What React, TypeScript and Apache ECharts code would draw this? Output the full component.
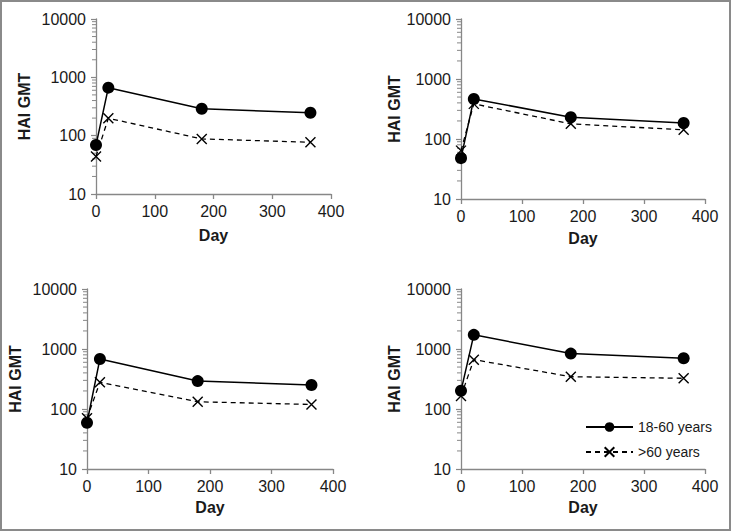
import React, { useEffect, useRef } from 'react';
import * as echarts from 'echarts';

const days = [0, 21, 180, 365];
const seriesNames = ['18-60 years', '>60 years'];

const panel1Young = [69, 665, 290, 247];
const panel1Old = [44, 199, 88, 77];
const panel2Young = [48, 465, 231, 185];
const panel2Old = [64, 385, 179, 142];
const panel3Young = [59, 683, 292, 251];
const panel3Old = [70, 279, 132, 119];
const panel4Young = [201, 1722, 838, 702];
const panel4Old = [164, 665, 345, 325];

const yMinorTickValues = [
  20, 30, 40, 50, 60, 70, 80, 90,
  200, 300, 400, 500, 600, 700, 800, 900,
  2000, 3000, 4000, 5000, 6000, 7000, 8000, 9000,
];

const FONT = '"Liberation Sans", Arial, sans-serif';
const AXIS_COLOR = '#878787';
const TEXT_COLOR = '#1a1a1a';

const grids = [
  { left: 96, top: 19, width: 235, height: 175, yGap: 64, xGap: 33 },
  { left: 461, top: 19, width: 244, height: 180, yGap: 56, xGap: 31 },
  { left: 87, top: 289, width: 246, height: 180, yGap: 64, xGap: 30 },
  { left: 461, top: 289, width: 244, height: 180, yGap: 56, xGap: 30 },
];

const panelData = [
  [panel1Young, panel1Old],
  [panel2Young, panel2Old],
  [panel3Young, panel3Old],
  [panel4Young, panel4Old],
];

export default function App() {
  const ref = useRef<HTMLDivElement>(null);

  useEffect(() => {
    if (!ref.current) return;
    const chart = echarts.init(ref.current, null, { renderer: 'svg' });

    const xAxes = grids.map((g, i) => ({
      type: 'value',
      gridIndex: i,
      min: 0,
      max: 400,
      interval: 100,
      name: 'Day',
      nameLocation: 'middle',
      nameGap: g.xGap,
      nameTextStyle: { fontFamily: FONT, fontSize: 16, fontWeight: 'bold', color: TEXT_COLOR },
      axisLine: { show: true, lineStyle: { color: AXIS_COLOR, width: 1.3 } },
      axisTick: { show: true, inside: false, length: 5, lineStyle: { color: AXIS_COLOR, width: 1.3 } },
      axisLabel: { fontFamily: FONT, fontSize: 16, color: TEXT_COLOR, margin: 9 },
      splitLine: { show: false },
    }));

    const yAxes = grids.map((g, i) => ({
      type: 'log',
      logBase: 10,
      gridIndex: i,
      min: 10,
      max: 10000,
      name: 'HAI GMT',
      nameLocation: 'middle',
      nameGap: g.yGap,
      nameRotate: 90,
      nameTextStyle: { fontFamily: FONT, fontSize: 16, fontWeight: 'bold', color: TEXT_COLOR },
      axisLine: { show: true, lineStyle: { color: AXIS_COLOR, width: 1.3 } },
      axisTick: { show: true, inside: false, length: 5, lineStyle: { color: AXIS_COLOR, width: 1.2 } },
      axisLabel: {
        fontFamily: FONT,
        fontSize: 16,
        color: TEXT_COLOR,
        margin: 10,
        formatter: (v: number) => String(Math.round(v)),
      },
      splitLine: { show: false },
    }));

    const series: any[] = [];
    panelData.forEach((pair, i) => {
      series.push({
        name: 'minorTicks' + i,
        type: 'custom',
        xAxisIndex: i,
        yAxisIndex: i,
        silent: true,
        clip: false,
        data: yMinorTickValues.map((v) => [0, v]),
        renderItem: (params: any, api: any) => {
          const p = api.coord([api.value(0), api.value(1)]);
          return {
            type: 'line',
            shape: { x1: p[0] - 4, y1: p[1], x2: p[0], y2: p[1] },
            style: { stroke: AXIS_COLOR, lineWidth: 1 },
          };
        },
        z: 1,
      });
      series.push({
        name: seriesNames[0],
        type: 'line',
        xAxisIndex: i,
        yAxisIndex: i,
        data: days.map((d, k) => [d, pair[0][k]]),
        symbol: 'circle',
        symbolSize: 12,
        lineStyle: { color: '#000', width: 1.5, type: 'solid' },
        itemStyle: { color: '#000' },
        z: 3,
      });
      series.push({
        name: seriesNames[1],
        type: 'line',
        xAxisIndex: i,
        yAxisIndex: i,
        data: days.map((d, k) => [d, pair[1][k]]),
        symbol: 'path://M0,0L10,10M10,0L0,10',
        symbolSize: 10,
        symbolKeepAspect: true,
        lineStyle: { color: '#000', width: 1.3, type: [5, 4] },
        itemStyle: { color: '#000', borderColor: '#000', borderWidth: 1.4 },
        z: 2,
      });
    });

    chart.setOption({
      animation: false,
      backgroundColor: '#ffffff',
      grid: grids.map((g) => ({ left: g.left, top: g.top, width: g.width, height: g.height })),
      xAxis: xAxes,
      yAxis: yAxes,
      legend: {
        data: seriesNames,
        orient: 'vertical',
        left: 585,
        top: 420,
        padding: 0,
        itemWidth: 47,
        itemHeight: 12,
        itemGap: 11,
        textStyle: { fontFamily: FONT, fontSize: 14, color: TEXT_COLOR },
      },
      graphic: [
        {
          type: 'rect',
          shape: { x: 1, y: 1, width: 729, height: 529 },
          style: { fill: 'none', stroke: '#8a8a8a', lineWidth: 2 },
          silent: true,
        },
      ],
      series,
    });

    return () => {
      chart.dispose();
    };
  }, []);

  return (
    <div
      ref={ref}
      style={{ position: 'fixed', left: 0, top: 0, width: 732, height: 532 }}
    />
  );
}
